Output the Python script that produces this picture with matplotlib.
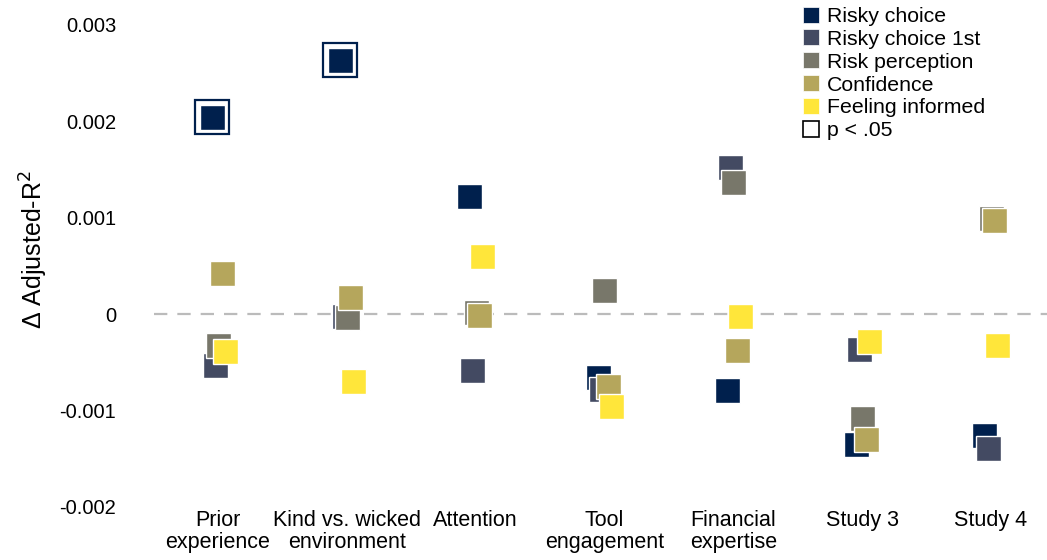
import numpy as np
import matplotlib.pyplot as plt
from matplotlib.lines import Line2D

plt.rcParams['font.family'] = ['Liberation Sans', 'DejaVu Sans']

# categories on the x axis
categories = ['Prior\nexperience', 'Kind vs. wicked\nenvironment', 'Attention',
              'Tool\nengagement', 'Financial\nexpertise', 'Study 3', 'Study 4']

# outcomes (series)
outcomes = ['Risky choice', 'Risky choice 1st', 'Risk perception',
            'Confidence', 'Feeling informed']

# delta adjusted R^2 per outcome, one value per category
risky_choice = [0.00204, 0.002635, 0.00122, -0.00065, -0.00079, -0.00135, -0.00125]
risky_choice_1st = [-0.00053, -0.00002, -0.00058, -0.00078, 0.00153, -0.00036, -0.00139]
risk_perception = [-0.00032, -0.00003, 0.00002, 0.00025, 0.00137, -0.00108, 0.00100]
confidence = [0.00043, 0.00018, -0.00001, -0.00075, -0.00037, -0.00130, 0.00097]
feeling_informed = [-0.00038, -0.00069, 0.00060, -0.00095, -0.00002, -0.00028, -0.00032]

# significance flags (p < .05)
sig_risky_choice = [True, True, False, False, False, False, False]

values = [risky_choice, risky_choice_1st, risk_perception, confidence, feeling_informed]
sig = [sig_risky_choice] + [[False] * 7] * 4

colors = ['#00204D', '#434A62', '#78776A', '#B5A65C', '#FFE63A']
dodge = [-0.05, -0.025, 0.0, 0.028, 0.052]

fig = plt.figure(figsize=(10.47, 5.6), dpi=100)
ax = fig.add_axes([153.6 / 1047, 1 - 516 / 560, 1 - 153.6 / 1047, 516 / 560])

x = np.arange(1, len(categories) + 1)
ax.axhline(0, color='#BBBBBB', lw=1.6, ls=(0, (6, 4.5)), zorder=0)

for i, (vals, c) in enumerate(zip(values, colors)):
    xs = x + dodge[i]
    vals = np.array(vals)
    s = np.array(sig[i])
    if s.any():
        ax.plot(xs[s], vals[s], 's', ms=24, mfc='white', mec=c, mew=1.6,
                ls='none', zorder=2 + i * 2)
    ax.plot(xs, vals, 's', ms=18, mfc=c, mec='white', mew=1.0,
            ls='none', zorder=3 + i * 2)

ax.set_xlim(0.5, 0.5 + (1047 - 153.6) / 128.8)
ax.set_ylim(-0.002095, 0.003257)
ax.set_xticks(x)
ax.set_xticklabels(categories, fontsize=15.5, linespacing=1.05)
ax.set_yticks([-0.002, -0.001, 0, 0.001, 0.002, 0.003])
ax.set_yticklabels(['-0.002', '-0.001', '0', '0.001', '0.002', '0.003'], fontsize=14.5)
ax.tick_params(axis='y', length=0, pad=27)
ax.tick_params(axis='x', length=0, pad=-4)
for sp in ax.spines.values():
    sp.set_visible(False)

ax.set_ylabel('Δ Adjusted-R$^2$', fontsize=18)
ax.yaxis.set_label_coords(-0.1156, 0.517)

handles = [Line2D([], [], marker='s', ls='none', ms=12, mfc=c, mec='white', mew=0.5)
           for c in colors]
handles.append(Line2D([], [], marker='s', ls='none', ms=12, mfc='white', mec='black', mew=1.2))
labels = outcomes + ['p < .05']
fig.legend(handles, labels, loc='upper left', bbox_to_anchor=(799 / 1047, 0.995),
           frameon=False, fontsize=15.3, handlelength=0.7, handletextpad=0.4,
           labelspacing=0.18, borderpad=0.2, borderaxespad=0)

fig.savefig('out.png', dpi=100)
